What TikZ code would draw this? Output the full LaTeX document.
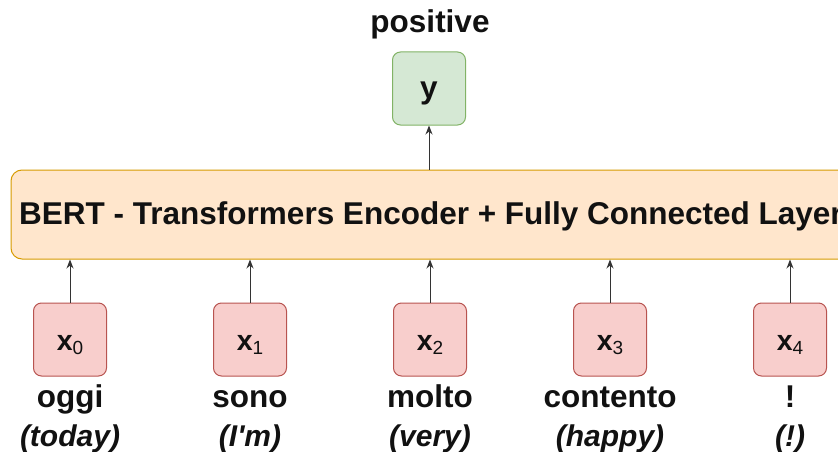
\documentclass[tikz,border=0pt]{standalone}
\usepackage{fontspec}
\setmainfont{Liberation Sans}
\usetikzlibrary{arrows.meta}
\definecolor{gfill}{HTML}{D5E8D4}
\definecolor{gline}{HTML}{82B366}
\definecolor{ofill}{HTML}{FFE6CC}
\definecolor{oline}{HTML}{D79B00}
\definecolor{rfill}{HTML}{F8CECC}
\definecolor{rline}{HTML}{B85450}
\definecolor{arrcol}{HTML}{333333}
\definecolor{txt}{HTML}{111111}
\newcommand{\xsub}[1]{x{\fontsize{19}{19}\selectfont\mdseries\raisebox{-4pt}{#1}}}
\begin{document}
\begin{tikzpicture}[x=1pt,y=-1pt,
  lbl/.style={font=\fontsize{31.5}{37}\selectfont\bfseries, text=txt, inner sep=0pt, anchor=base},
  ilbl/.style={font=\fontsize{30}{36}\selectfont\bfseries\itshape, text=txt, inner sep=0pt, anchor=base},
  xlbl/.style={font=\fontsize{28.5}{34}\selectfont\bfseries, text=txt, inner sep=0pt, anchor=base},
  ybox/.style={draw=gline, fill=gfill, line width=1pt, rounded corners=8pt, minimum width=73pt, minimum height=73pt, inner sep=0pt},
  xbox/.style={draw=rline, fill=rfill, line width=1pt, rounded corners=8pt, minimum width=73pt, minimum height=73pt, inner sep=0pt},
  encbox/.style={draw=oline, fill=ofill, line width=1pt, rounded corners=11pt, minimum width=840pt, minimum height=89pt, inner sep=0pt},
  arr/.style={draw=arrcol, line width=1pt, -{Stealth[length=9pt,width=7pt]}}]
\clip (0,0) rectangle (838,452);
\fill[white] (0,0) rectangle (838,452);
% encoder
\node[encbox] (enc) at (431,214.5) {};
\node[lbl] (enctxt) at (431,224) {BERT - Transformers Encoder + Fully Connected Layer};
% output
\node[ybox] (y) at (429,88.5) {};
\node[lbl] (ytxt) at (429,98) {y};
\node[lbl] (pos) at (430,33) {positive};
\draw[arr] (enc.north -| y.south) -- (y.south);
% inputs
\foreach \i/\xx/\w/\t in {0/70/oggi/(today),1/250/sono/(I\textquotesingle m),2/430/molto/(very),3/610/contento/(happy),4/790/!/(!)}{
  \node[xbox] (x\i) at (\xx,339.5) {};
  \node[xlbl] (xt\i) at (\xx,350) {\xsub{\i}};
  \node[lbl] (w\i) at (\xx,407) {\w};
  \node[ilbl] (t\i) at (\xx,446) {\t};
  \draw[arr] (x\i.north) -- (x\i.north |- enc.south);
}
\end{tikzpicture}
\end{document}
